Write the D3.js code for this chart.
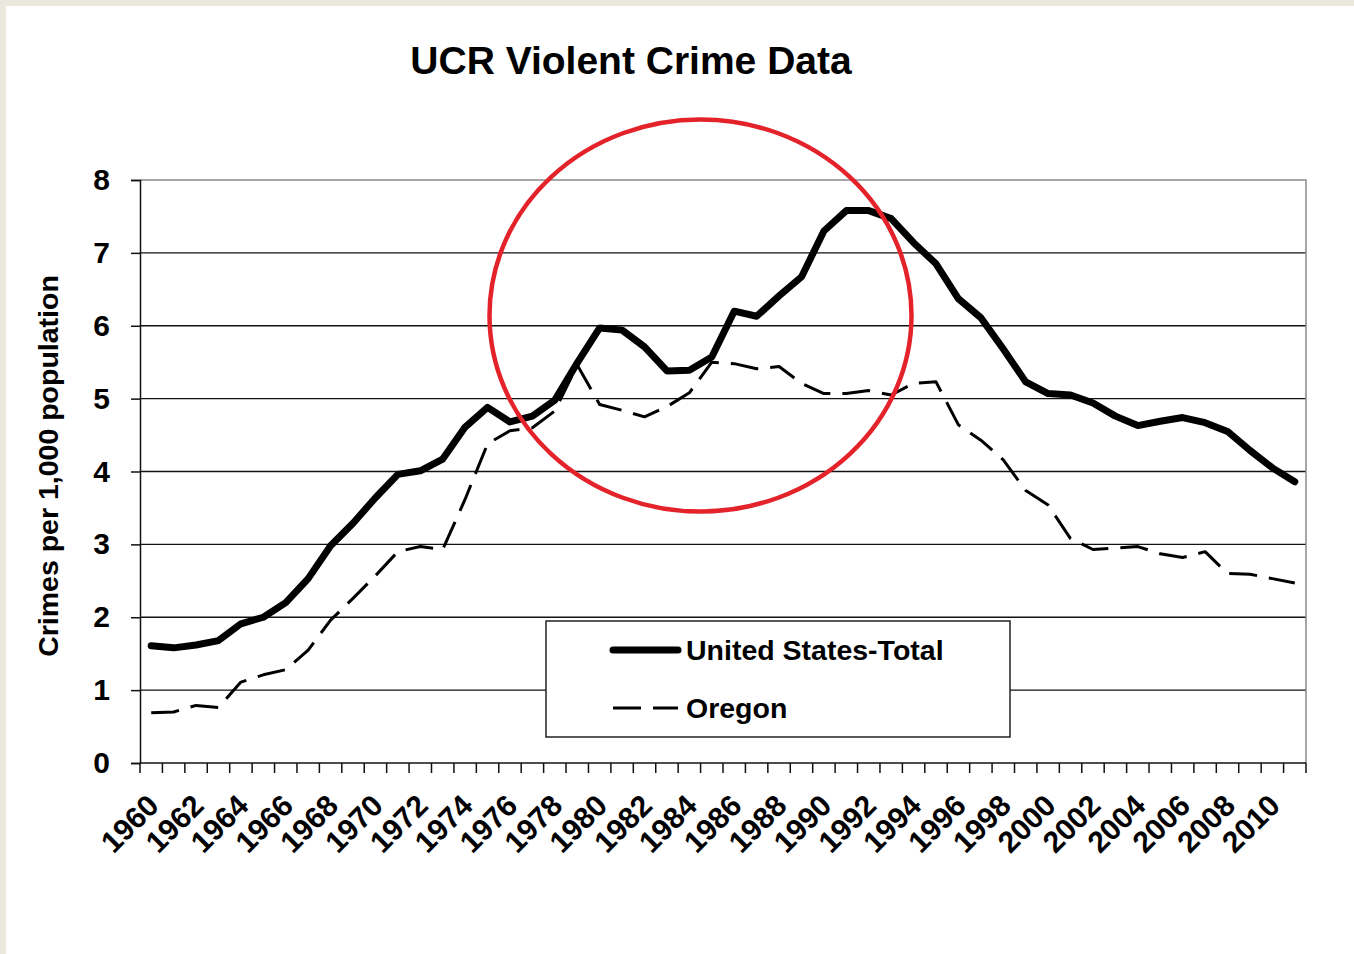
<!DOCTYPE html>
<html>
<head>
<meta charset="utf-8">
<script src="https://cdn.jsdelivr.net/npm/d3@7"></script>
<style>
  html, body { margin: 0; padding: 0; background: #ffffff; }
  svg { display: block; }
  text { font-family: "Liberation Sans", Arial, sans-serif; font-weight: bold; fill: #000; }
</style>
</head>
<body>
<script>
// ---- data ----
const years = d3.range(1960, 2012);
const usTotal = [1.61, 1.58, 1.62, 1.68, 1.91, 2.00, 2.20, 2.53, 2.98, 3.29,
                 3.64, 3.96, 4.01, 4.17, 4.61, 4.88, 4.68, 4.76, 4.98, 5.49,
                 5.97, 5.94, 5.71, 5.38, 5.39, 5.57, 6.20, 6.13, 6.41, 6.67,
                 7.30, 7.58, 7.58, 7.47, 7.14, 6.85, 6.37, 6.11, 5.68, 5.23,
                 5.07, 5.05, 4.94, 4.76, 4.63, 4.69, 4.74, 4.67, 4.55, 4.29,
                 4.05, 3.86];
const oregon = [0.69, 0.70, 0.79, 0.76, 1.11, 1.21, 1.28, 1.55, 1.96, 2.26,
                2.57, 2.90, 2.97, 2.93, 3.62, 4.38, 4.56, 4.60, 4.83, 5.46,
                4.92, 4.84, 4.75, 4.89, 5.08, 5.50, 5.48, 5.41, 5.44, 5.21,
                5.07, 5.07, 5.11, 5.05, 5.21, 5.23, 4.64, 4.43, 4.16, 3.74,
                3.54, 3.08, 2.93, 2.95, 2.97, 2.87, 2.82, 2.90, 2.60, 2.59,
                2.53, 2.47];
const yTicks = [0, 1, 2, 3, 4, 5, 6, 7, 8];
const xLabelYears = years.filter(y => (y - 1960) % 2 === 0 && y <= 2010);
const seriesNames = ["United States-Total", "Oregon"];
const titleText = "UCR Violent Crime Data";
const yTitle = "Crimes per 1,000 population";

// ---- layout ----
const W = 1354, H = 954;
const plot = { left: 140, right: 1306, top: 180, bottom: 763 };

const svg = d3.select("body").append("svg").attr("width", W).attr("height", H);

// frame
svg.append("rect").attr("x", 0).attr("y", 0).attr("width", W).attr("height", H).attr("fill", "#ebe8de");
svg.append("rect").attr("x", 6).attr("y", 6).attr("width", W - 6).attr("height", H - 6).attr("fill", "#ffffff");

const x = d3.scaleBand().domain(years).range([plot.left, plot.right]).paddingInner(0).paddingOuter(0);
const y = d3.scaleLinear().domain([0, 8]).range([plot.bottom, plot.top]);
const cx = yr => x(yr) + x.bandwidth() / 2;

// gridlines
svg.append("g").selectAll("line").data(yTicks.filter(t => t > 0 && t < 8)).join("line")
  .attr("x1", plot.left).attr("x2", plot.right)
  .attr("y1", d => y(d)).attr("y2", d => y(d))
  .attr("stroke", "#111").attr("stroke-width", 1.3);

// plot border (top/right)
svg.append("path")
  .attr("d", `M${plot.left},${y(8)}H${plot.right}V${plot.bottom}`)
  .attr("fill", "none").attr("stroke", "#8a8a8a").attr("stroke-width", 1.5);

// y axis
const yAxis = d3.axisLeft(y).tickValues(yTicks).tickSize(9).tickPadding(21).tickFormat(d3.format("d"));
const gy = svg.append("g").attr("transform", `translate(${plot.left},0)`).call(yAxis);
gy.select(".domain").attr("stroke", "#111").attr("stroke-width", 1.5);
gy.selectAll(".tick line").attr("stroke", "#111").attr("stroke-width", 1.5);
gy.selectAll(".tick text").attr("font-size", 30).attr("font-family", "Liberation Sans, Arial, sans-serif")
  .attr("font-weight", "bold").attr("fill", "#000");

// x axis line + boundary ticks
const boundaries = years.map(yr => x(yr)).concat([plot.right]);
svg.append("line").attr("x1", plot.left).attr("x2", plot.right)
  .attr("y1", plot.bottom).attr("y2", plot.bottom).attr("stroke", "#111").attr("stroke-width", 1.6);
svg.append("g").selectAll("line").data(boundaries).join("line")
  .attr("x1", d => d).attr("x2", d => d)
  .attr("y1", plot.bottom).attr("y2", plot.bottom + 10)
  .attr("stroke", "#111").attr("stroke-width", 1.5);

// x labels
svg.append("g").selectAll("text").data(xLabelYears).join("text")
  .attr("transform", d => `translate(${cx(d) + 2},${800}) rotate(-45)`)
  .attr("text-anchor", "end").attr("dy", "0.35em")
  .attr("font-size", 30)
  .text(d => d);

// y title
svg.append("text")
  .attr("transform", `translate(58,466) rotate(-90)`)
  .attr("text-anchor", "middle").attr("font-size", 28.5)
  .text(yTitle);

// title
svg.append("text").attr("x", 631).attr("y", 74).attr("text-anchor", "middle")
  .attr("font-size", 39).text(titleText);

// lines
const lineGen = d3.line().x((d, i) => cx(years[i])).y(d => y(d));
svg.append("path").datum(oregon).attr("d", lineGen)
  .attr("fill", "none").attr("stroke", "#000").attr("stroke-width", 3)
  .attr("stroke-dasharray", "28,12").attr("stroke-linejoin", "round");
svg.append("path").datum(usTotal).attr("d", lineGen)
  .attr("fill", "none").attr("stroke", "#000").attr("stroke-width", 7)
  .attr("stroke-linejoin", "round").attr("stroke-linecap", "round");

// red circle annotation
svg.append("ellipse").attr("cx", 700.5).attr("cy", 315.5).attr("rx", 211).attr("ry", 196)
  .attr("fill", "none").attr("stroke", "#e3222a").attr("stroke-width", 4.5);

// legend
const lg = svg.append("g");
lg.append("rect").attr("x", 546).attr("y", 621).attr("width", 464).attr("height", 116)
  .attr("fill", "#fff").attr("stroke", "#222").attr("stroke-width", 1.5);
const legendRows = [
  { name: seriesNames[0], y: 650, width: 7, dash: null },
  { name: seriesNames[1], y: 708, width: 3, dash: "28,12" }
];
legendRows.forEach(r => {
  lg.append("line").attr("x1", 613).attr("x2", 678).attr("y1", r.y).attr("y2", r.y)
    .attr("stroke", "#000").attr("stroke-width", r.width)
    .attr("stroke-linecap", r.dash ? "butt" : "round")
    .attr("stroke-dasharray", r.dash);
  lg.append("text").attr("x", 686).attr("y", r.y).attr("dy", "0.36em")
    .attr("font-size", 28.5).text(r.name);
});
</script>
</body>
</html>
